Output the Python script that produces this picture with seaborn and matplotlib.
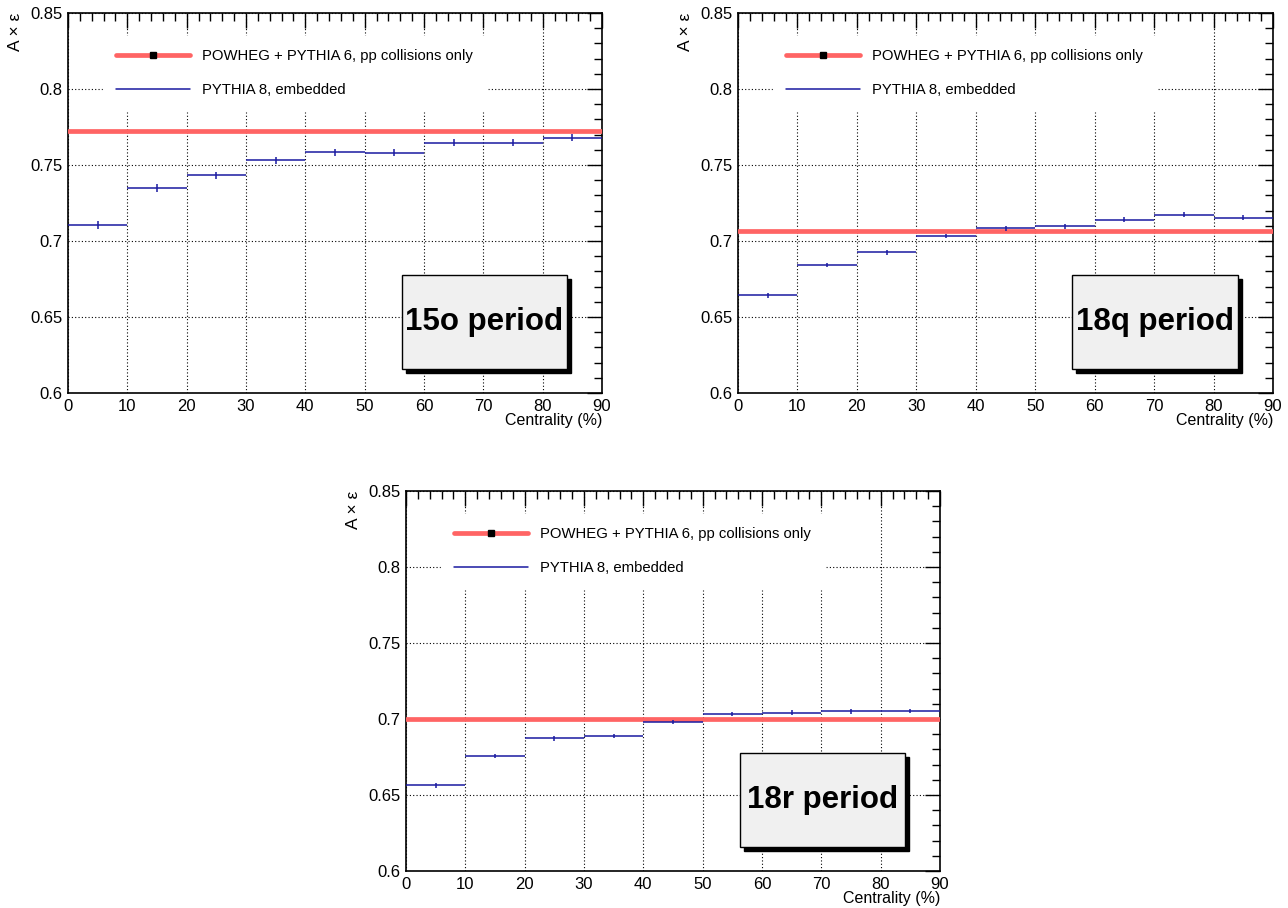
import numpy as np
import pandas as pd
import matplotlib.pyplot as plt
import seaborn as sns
from matplotlib.lines import Line2D
from matplotlib.patches import Rectangle
from matplotlib.ticker import MultipleLocator

# centrality bins (%)
bin_lo = [0, 10, 20, 30, 40, 50, 60, 70, 80]
bin_hi = [10, 20, 30, 40, 50, 60, 70, 80, 90]

# A x eff, PYTHIA 8 embedded, per period
acc_15o = [0.7105, 0.7349, 0.7432, 0.7531, 0.7583, 0.7579, 0.7647, 0.7645, 0.7680]
err_15o = [0.0024, 0.0024, 0.0024, 0.0024, 0.0024, 0.0023, 0.0023, 0.0023, 0.0023]
acc_18q = [0.6643, 0.6842, 0.6925, 0.7033, 0.7083, 0.7096, 0.7140, 0.7173, 0.7154]
err_18q = [0.0015, 0.0015, 0.0015, 0.0015, 0.0014, 0.0014, 0.0015, 0.0015, 0.0014]
acc_18r = [0.6564, 0.6757, 0.6873, 0.6888, 0.6980, 0.7033, 0.7042, 0.7050, 0.7053]
err_18r = [0.0015, 0.0015, 0.0015, 0.0015, 0.0015, 0.0015, 0.0015, 0.0015, 0.0015]

# POWHEG + PYTHIA 6 pp-only reference value
pp_15o = 0.7725
pp_18q = 0.7064
pp_18r = 0.7003

periods = ["15o period", "18q period", "18r period"]

sns.set_theme(style="white")
plt.rcParams['font.family'] = ['Liberation Sans', 'DejaVu Sans']
plt.rcParams['text.color'] = 'black'

red = "#ff6464"
blue = "#1a1aa0"

fig = plt.figure(figsize=(12.88, 9.08), dpi=100)
W, H = 1288, 908
# axes boxes in pixels: left, top, right, bottom
boxes = [(68, 13, 602, 393), (738, 13, 1273, 393), (406, 491, 940, 871)]

panels = [
    (acc_15o, err_15o, pp_15o),
    (acc_18q, err_18q, pp_18q),
    (acc_18r, err_18r, pp_18r),
]

for (l, t, r, b), (acc, err, pp), name in zip(boxes, panels, periods):
    ax = fig.add_axes([l / W, 1 - b / H, (r - l) / W, (b - t) / H])
    df = pd.DataFrame({"lo": bin_lo, "hi": bin_hi, "acc": acc, "err": err})
    df["mid"] = (df["lo"] + df["hi"]) / 2
    df["half"] = (df["hi"] - df["lo"]) / 2

    ax.axhline(pp, color=red, lw=3.4, zorder=3)
    ax.errorbar(df["mid"], df["acc"], xerr=df["half"], yerr=df["err"],
                fmt="none", ecolor=blue, elinewidth=1.1, capsize=0, zorder=4)

    ax.set_xlim(0, 90)
    ax.set_ylim(0.6, 0.85)
    ax.xaxis.set_major_locator(MultipleLocator(10))
    ax.xaxis.set_minor_locator(MultipleLocator(2))
    ax.yaxis.set_minor_locator(MultipleLocator(0.01))
    ax.set_yticks([0.6, 0.65, 0.7, 0.75, 0.8, 0.85])
    ax.set_yticklabels(["0.6", "0.65", "0.7", "0.75", "0.8", "0.85"])
    ax.tick_params(which="both", direction="in", top=True, right=True,
                   labelsize=12, colors="black", pad=4)
    ax.tick_params(which="major", length=11, width=1)
    ax.tick_params(which="minor", length=5.5, width=1)
    ax.grid(True, which="major", color="black", ls=(0, (1, 2)), lw=0.8)
    for sp in ax.spines.values():
        sp.set_color("black")
        sp.set_linewidth(1.2)

    ax.text(-53 / (r - l), 1.0, "A × ε", rotation=90, ha="center", va="top",
            fontsize=12.5, color="black", transform=ax.transAxes)
    ax.text(1.0, -27 / (b - t), "Centrality (%)", ha="right", va="center",
            fontsize=11.5, color="black", transform=ax.transAxes)

    handles = [
        Line2D([], [], color=red, lw=3.4, marker="s", markersize=5,
               markerfacecolor="black", markeredgecolor="black"),
        Line2D([], [], color=blue, lw=1.1),
    ]
    leg = ax.legend(handles, ["POWHEG + PYTHIA 6, pp collisions only", "PYTHIA 8, embedded"],
                    loc="upper left", bbox_to_anchor=(0.065, 0.94), frameon=True,
                    fontsize=10.7, handlelength=5, handletextpad=0.8, labelspacing=1.35,
                    numpoints=1, borderpad=0.9, borderaxespad=0)
    leg.get_frame().set_facecolor("white")
    leg.get_frame().set_edgecolor("white")
    leg.get_frame().set_alpha(1)
    leg.set_zorder(5)
    for txt in leg.get_texts():
        txt.set_color("black")

    # period label box with shadow
    bx0, bx1, by0, by1 = 0.625, 0.935, 0.063, 0.311
    dx, dy = 4 / (r - l), 4 / (b - t)
    ax.add_patch(Rectangle((bx0 + dx, by0 - dy), bx1 - bx0, by1 - by0,
                           transform=ax.transAxes, facecolor="black",
                           edgecolor="black", zorder=6))
    ax.add_patch(Rectangle((bx0, by0), bx1 - bx0, by1 - by0,
                           transform=ax.transAxes, facecolor="#f0f0f0",
                           edgecolor="black", lw=1, zorder=7))
    ax.text((bx0 + bx1) / 2, (by0 + by1) / 2, name, ha="center", va="center",
            fontsize=22.5, fontweight="bold", color="black",
            transform=ax.transAxes, zorder=8)

fig.savefig("out.png", dpi=100)
